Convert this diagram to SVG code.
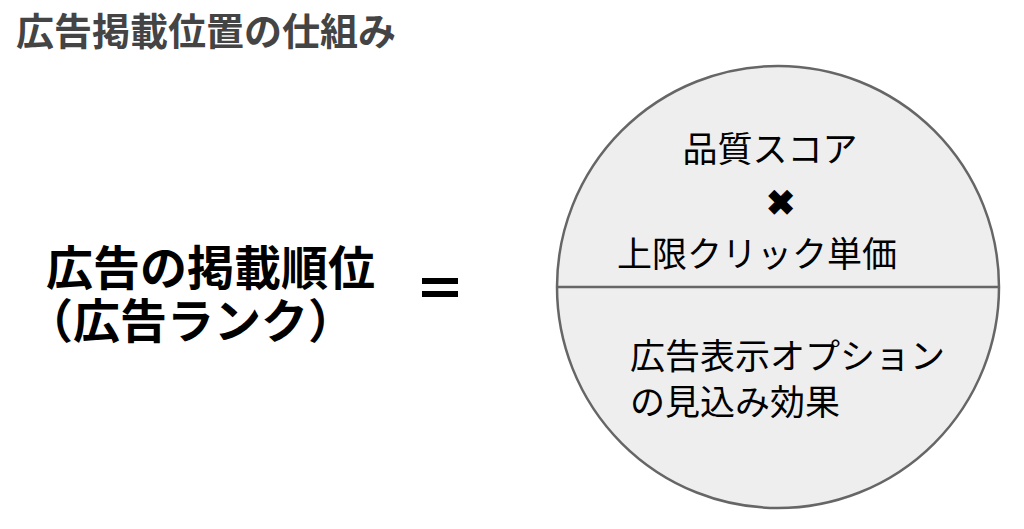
<svg xmlns="http://www.w3.org/2000/svg" width="1024" height="529" viewBox="0 0 1024 529">
<style>
.jp{font-family:"Noto Sans CJK JP","Noto Sans CJK SC",sans-serif;}
.b{font-weight:bold;}
.inner{font-size:35px;fill:#000;}
.big{font-size:47px;fill:#000;font-weight:bold;}
</style>
<rect width="1024" height="529" fill="#ffffff"/>
<text id="title" class="jp b" x="16" y="45" font-size="38" fill="#444444">広告掲載位置の仕組み</text>
<g id="lhs">
<text class="jp big"><tspan x="46" y="285">広告の掲載順位</tspan><tspan x="26" y="338">（広告ランク）</tspan></text>
</g>
<g id="eq">
<rect x="422" y="278" width="36" height="6" fill="#000"/>
<rect x="422" y="291" width="36" height="6" fill="#000"/>
</g>
<g id="circle">
<circle cx="778" cy="287" r="221" fill="#eeeeee" stroke="#666666" stroke-width="2.5"/>
<line x1="557" y1="287" x2="999" y2="287" stroke="#666666" stroke-width="2.5"/>
</g>
<g id="top">
<text class="jp inner" x="770" y="162" text-anchor="middle">品質スコア</text>
<text class="jp inner b" x="780" y="215" text-anchor="middle" font-size="28">✖</text>
<text class="jp inner" x="757" y="267" text-anchor="middle">上限クリック単価</text>
</g>
<g id="bottom">
<text class="jp inner" font-size="34.5"><tspan x="630" y="369">広告表示オプション</tspan><tspan x="630" y="415">の見込み効果</tspan></text>
</g>
</svg>
